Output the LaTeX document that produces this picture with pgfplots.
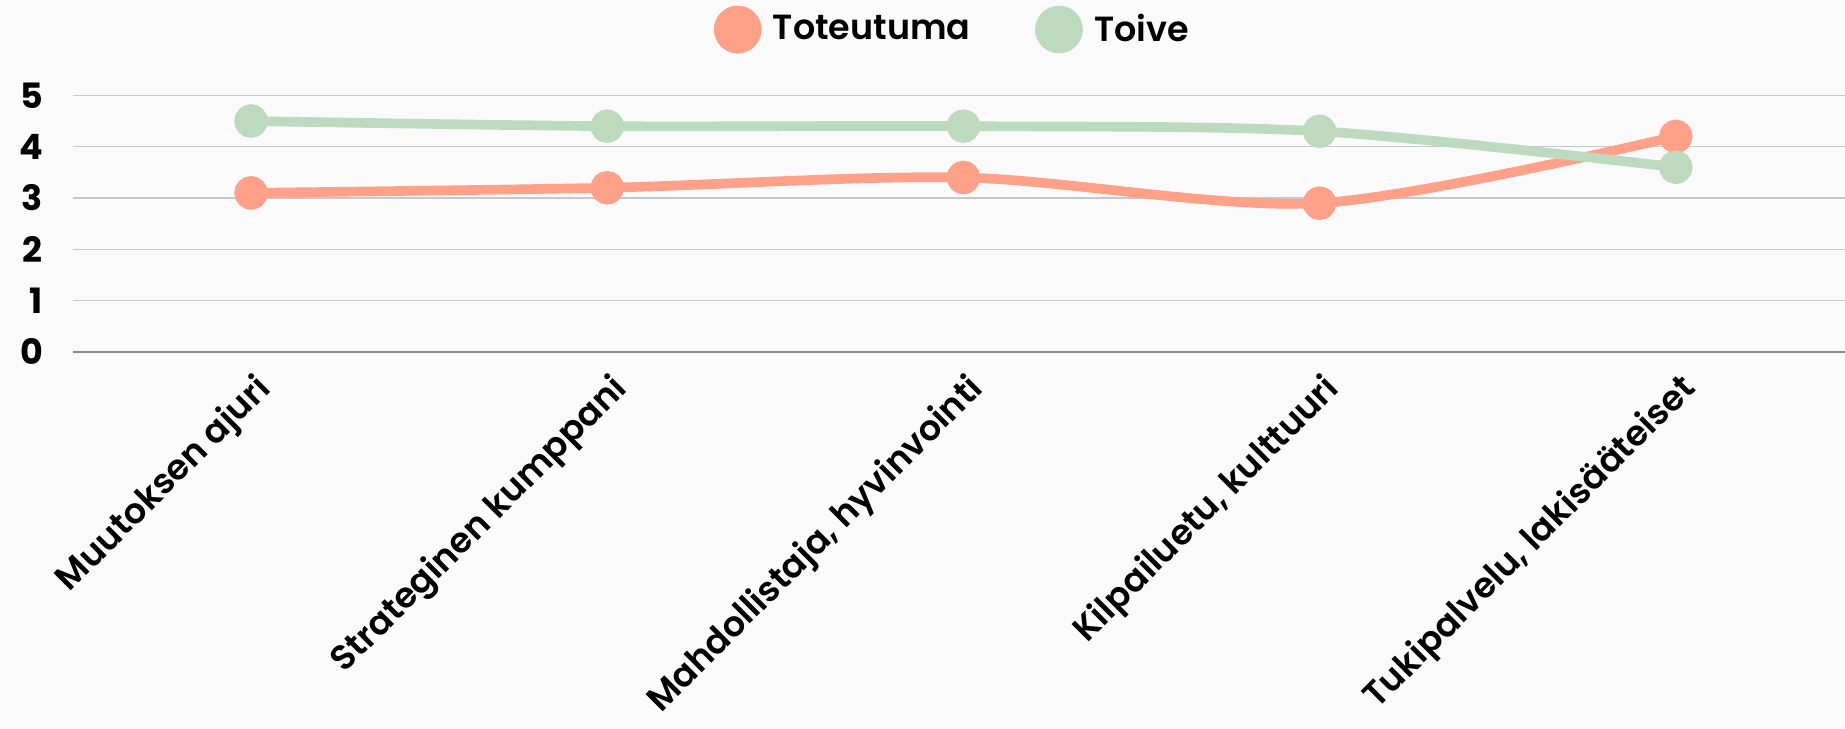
\documentclass[border=0pt]{standalone}
\usepackage{fontspec}
\setmainfont{Poppins}[BoldFont={Poppins SemiBold}]
\newfontfamily\popbold{Poppins Bold}
\usepackage{pgfplots}
\pgfplotsset{compat=1.18}
\definecolor{bgc}{HTML}{FAFAFA}
\definecolor{toteu}{HTML}{FFA089}
\definecolor{toive}{HTML}{BDD9BE}
\definecolor{gridc}{HTML}{C8C8C8}
\definecolor{zeroc}{HTML}{8A8A8A}

\begin{document}
\begin{tikzpicture}
\fill[bgc] (-25.7pt,-132.8pt) rectangle (624.3pt,124pt);
\begin{axis}[
    at={(0,0)}, anchor=south west,
    scale only axis,
    width=624.3pt, height=90.4pt,
    xmin=-0.5, xmax=4.475,
    ymin=0, ymax=5,
    ytick={1,2,3,4,5},
    extra y ticks={0},
    extra y tick style={grid style={draw=zeroc, line width=0.6pt}},
    xtick={0,1,2,3,4},
    xticklabels={Muutoksen ajuri, Strateginen kumppani, {Mahdollistaja, hyvinvointi}, {Kilpailuetu, kulttuuri}, {Tukipalvelu, lakisääteiset}},
    ymajorgrids,
    grid style={draw=gridc, line width=0.5pt},
    axis line style={draw=none},
    major tick length=0pt,
    tick label style={font=\bfseries\fontsize{12.3}{14}\selectfont},
    /pgf/number format/assume math mode=true,
    yticklabel style={anchor=east, inner sep=0pt, xshift=-10.4pt, font=\popbold\fontsize{12.3}{14}\selectfont},
    xticklabel style={xshift=0.6pt, yshift=-6.4pt, rotate=45, anchor=north east, inner sep=0pt},
    legend style={
        at={(axis description cs:0.5,1)}, anchor=center, yshift=23.2pt, xshift=-1.7pt,
        draw=none, fill=none,
        font=\bfseries\fontsize{12.3}{15}\selectfont,
        legend columns=2,
        /tikz/every odd column/.append style={column sep=2pt},
        /tikz/every even column/.append style={column sep=20.8pt},
    },
    legend cell align=left,
]
\addplot[color=toteu, line width=3.4pt, smooth, mark=*, mark size=4.2pt,
    mark options={draw=none, fill=toteu},
    legend image code/.code={\fill[toteu] (0.2cm,0) circle (6.7pt);}]
    coordinates {(0,3.1) (1,3.2) (2,3.4) (3,2.9) (4,4.2)};
\addlegendentry{Toteutuma}
\addplot[color=toive, line width=3.4pt, smooth, mark=*, mark size=4.2pt,
    mark options={draw=none, fill=toive},
    legend image code/.code={\fill[toive] (0.2cm,0) circle (6.7pt);}]
    coordinates {(0,4.5) (1,4.4) (2,4.4) (3,4.3) (4,3.6)};
\addlegendentry{Toive}
\end{axis}
\pgfresetboundingbox
\path (-25.7pt,-132.8pt) rectangle (624.3pt,124pt);
\end{tikzpicture}
\end{document}
